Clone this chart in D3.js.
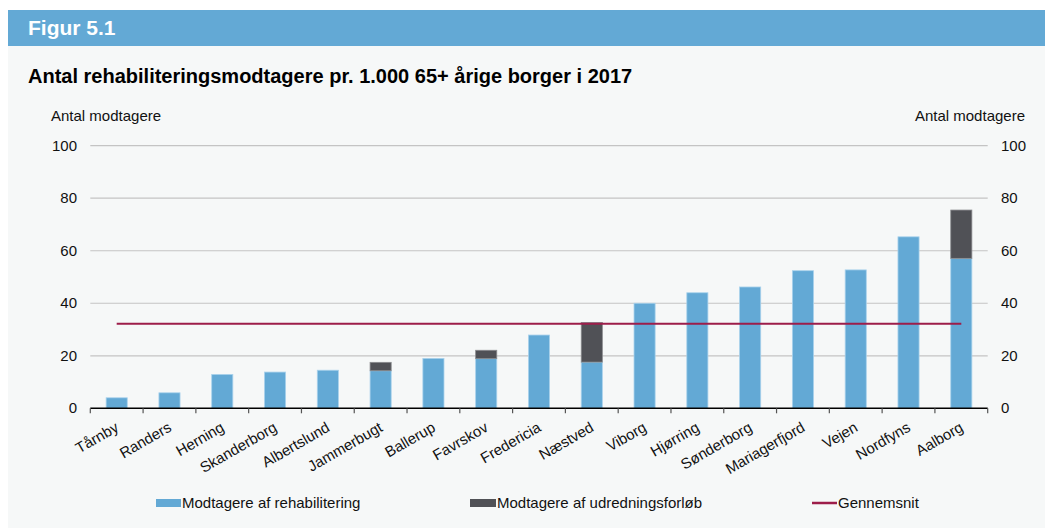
<!DOCTYPE html>
<html><head><meta charset="utf-8">
<script src="https://cdn.jsdelivr.net/npm/d3@7"></script>
<style>html,body{margin:0;padding:0;background:#fff;}svg{display:block;font-family:"Liberation Sans",Arial,sans-serif;}</style>
</head><body>
<svg id="c" width="1053" height="528"></svg>
<script>
const categories = ["Tårnby","Randers","Herning","Skanderborg","Albertslund","Jammerbugt","Ballerup","Favrskov","Fredericia","Næstved","Viborg","Hjørring","Sønderborg","Mariagerfjord","Vejen","Nordfyns","Aalborg"];
const rehab = [4.0,5.9,12.9,13.8,14.5,14.3,19.0,18.9,27.9,17.6,40.0,44.0,46.2,52.4,52.7,65.3,57.1];
const udred = [0,0,0,0,0,3.2,0,3.2,0,15.1,0,0,0,0,0,0,18.4];
const average = 32.2;
const yTicks = [0,20,40,60,80,100];
const seriesNames = ["Modtagere af rehabilitering","Modtagere af udredningsforløb","Gennemsnit"];

const blue = "#63a9d5", dark = "#505156", red = "#9d1d4a";
const svg = d3.select("#c");
svg.append("rect").attr("x",8).attr("y",45).attr("width",1037).attr("height",483).attr("fill","#f6f8f8");
svg.append("rect").attr("x",8).attr("y",10).attr("width",1037).attr("height",36).attr("fill","#63a9d5");
svg.append("text").attr("x",28).attr("y",35).attr("fill","#fff").attr("font-weight","bold").attr("font-size",21).text("Figur 5.1");
svg.append("text").attr("x",28).attr("y",83).attr("fill","#000").attr("font-weight","bold").attr("font-size",20).text("Antal rehabiliteringsmodtagere pr. 1.000 65+ årige borger i 2017");
svg.append("text").attr("x",51).attr("y",121).attr("font-size",15).attr("fill","#111").text("Antal modtagere");
svg.append("text").attr("x",1025).attr("y",121).attr("text-anchor","end").attr("font-size",15).attr("fill","#111").text("Antal modtagere");

const x0 = 90.3, x1 = 987.7;
const x = d3.scaleBand().domain(categories).range([x0,x1]).paddingInner(0.6).paddingOuter(0.3);
const y = d3.scaleLinear().domain([0,100]).range([408.3,145.7]);

// gridlines
svg.append("g").selectAll("line").data(yTicks.filter(d=>d>0)).join("line")
  .attr("x1",x0).attr("x2",x1).attr("y1",d=>y(d)).attr("y2",d=>y(d))
  .attr("stroke","#c4c4c4").attr("stroke-width",1.2);

// y labels
svg.append("g").selectAll("text").data(yTicks).join("text")
  .attr("x",77).attr("y",d=>y(d)+5).attr("text-anchor","end").attr("font-size",15).attr("fill","#111").text(d=>d);
svg.append("g").selectAll("text").data(yTicks).join("text")
  .attr("x",1001).attr("y",d=>y(d)+5).attr("text-anchor","start").attr("font-size",15).attr("fill","#111").text(d=>d);

// bars
const bw = x.bandwidth();
svg.append("g").selectAll("rect").data(categories).join("rect")
  .attr("x",(d)=>x(d)).attr("width",bw)
  .attr("y",(d,i)=>y(rehab[i])).attr("height",(d,i)=>y(0)-y(rehab[i]))
  .attr("fill",blue).attr("stroke","#a9d2ec").attr("stroke-width",0.8);
svg.append("g").selectAll("rect").data(categories.filter((d,i)=>udred[i]>0)).join("rect")
  .attr("x",d=>x(d)).attr("width",bw)
  .attr("y",d=>{const i=categories.indexOf(d);return y(rehab[i]+udred[i]);})
  .attr("height",d=>{const i=categories.indexOf(d);return y(rehab[i])-y(rehab[i]+udred[i]);})
  .attr("fill",dark).attr("stroke","#8a8b8e").attr("stroke-width",0.8);

// average line
svg.append("line")
  .attr("x1",x(categories[0])+bw/2).attr("x2",x(categories[categories.length-1])+bw/2)
  .attr("y1",y(average)).attr("y2",y(average)).attr("stroke",red).attr("stroke-width",2.2);

// x axis
const step = x.step();
const bounds = categories.map(d=>x(d)+bw/2-step/2).concat([x(categories[categories.length-1])+bw/2+step/2]);
svg.append("line").attr("x1",x0).attr("x2",x1).attr("y1",y(0)).attr("y2",y(0)).attr("stroke","#000").attr("stroke-width",1.5);
svg.append("g").selectAll("line").data(bounds).join("line")
  .attr("x1",d=>d).attr("x2",d=>d).attr("y1",y(0)).attr("y2",y(0)+5).attr("stroke","#555").attr("stroke-width",1.2);
svg.append("g").selectAll("text").data(categories).join("text")
  .attr("transform",d=>`translate(${x(d)+bw/2+3},${y(0)+22}) rotate(-30)`)
  .attr("text-anchor","end").attr("font-size",15).attr("fill","#111").text(d=>d);

// legend
const lg = svg.append("g");
const legendX = [156,470,812];
lg.append("rect").attr("x",legendX[0]).attr("y",499).attr("width",25).attr("height",8).attr("fill",blue);
lg.append("rect").attr("x",legendX[1]).attr("y",499).attr("width",26).attr("height",8).attr("fill",dark);
lg.append("line").attr("x1",legendX[2]).attr("x2",legendX[2]+25).attr("y1",503).attr("y2",503).attr("stroke",red).attr("stroke-width",2.5);
lg.selectAll("text").data(seriesNames).join("text")
  .attr("x",(d,i)=>legendX[i]+(i===1?27:26)).attr("y",508).attr("font-size",15).attr("fill","#111").text(d=>d);
</script>
</body></html>
